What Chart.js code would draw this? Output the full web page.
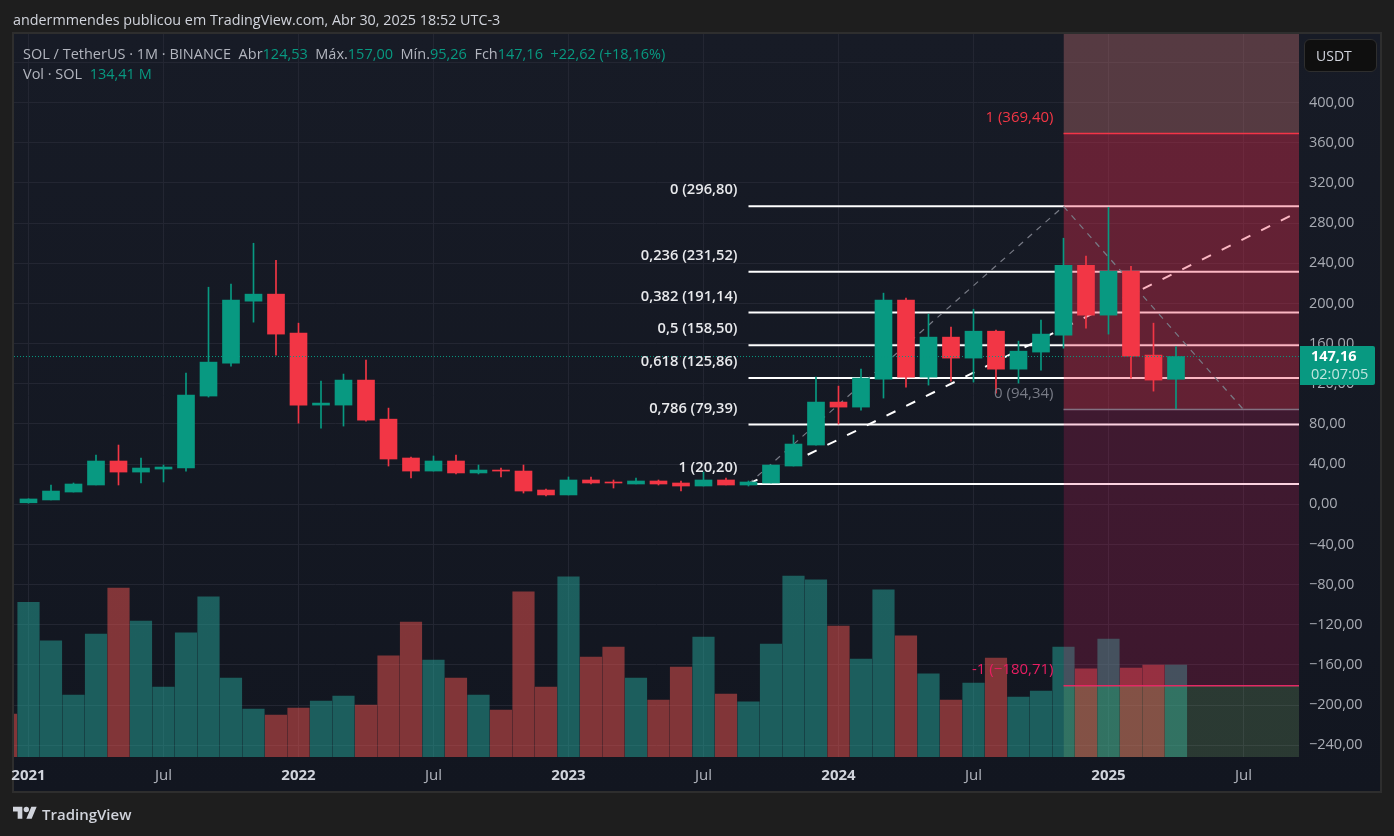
<!DOCTYPE html>
<html>
<head>
<meta charset="utf-8">
<title>SOL / TetherUS</title>
<script src="https://cdn.jsdelivr.net/npm/chart.js@4"></script>
<style>
  html, body { margin: 0; padding: 0; width: 1394px; height: 836px; overflow: hidden; background: #1e1e1e; }
  body { position: relative; font-family: "Open Sans", sans-serif; }
  #pane { position: absolute; left: 12px; top: 32px; width: 1366px; height: 757px; border: 2px solid #2e2e2e; background: linear-gradient(#171b26, #121620); }
  #chart { position: absolute; left: 0; top: 0; }
  .txt { position: absolute; white-space: pre; }
  #author { left: 13px; top: 10px; font-size: 14.35px; color: #d1d4dc; }
  #legend1, #legend2 { left: 23px; font-size: 14.5px; color: #b2b5be; }
  #legend1 { top: 44px; }
  #legend2 { top: 64px; }
  .up { color: #089981; }
  #usdt { position: absolute; left: 1304px; top: 39px; width: 71px; height: 31px; background: #0f0f0f; border: 1px solid #2e2e2e; border-radius: 6px; color: #d1d4dc; font-size: 14px; line-height: 31px; text-indent: 11px; will-change: transform; }
  #tag { position: absolute; left: 1300px; top: 346px; width: 75px; height: 39px; background: #089981; border-radius: 0 2px 2px 0; }
  #tagPrice { left: 1311px; top: 346px; font-size: 14.5px; font-weight: 700; color: #fff; }
  #tagTime { left: 1311px; top: 364px; font-size: 14.5px; color: #c0e5de; }
  #logo { position: absolute; left: 13px; top: 804px; }
  #brand { left: 42px; top: 804px; font-size: 15px; font-weight: 600; color: #d1d4dc; }
</style>
</head>
<body>
<div id="pane"></div>
<canvas id="chart" width="1394" height="836"></canvas>
<div id="usdt">USDT</div>
<div class="txt" id="author">andermmendes publicou em TradingView.com, Abr 30, 2025 18:52 UTC-3</div>
<div class="txt" id="legend1">SOL / TetherUS · 1M · BINANCE  Abr<span class="up">124,53</span>  Máx.<span class="up">157,00</span>  Mín.<span class="up">95,26</span>  Fch<span class="up">147,16</span>  <span class="up">+22,62 (+18,16%)</span></div>
<div class="txt" id="legend2">Vol · SOL  <span class="up">134,41 M</span></div>
<div id="tag"></div>
<div class="txt" id="tagPrice">147,16</div>
<div class="txt" id="tagTime">02:07:05</div>
<svg id="logo" width="24" height="19" viewBox="0 0 36 28"><path fill="#d1d4dc" d="M14 22H7V11H0V4h14v18zM28 22h-8l7.5-18h8L28 22z"/><circle fill="#d1d4dc" cx="20" cy="8" r="4"/></svg>
<div class="txt" id="brand">TradingView</div>
<script>
// monthly candles, Jan 2021 .. Apr 2025 (index 0 = Jan 2021)
const opens = [1.5,4.3,12.2,19.2,43.1,32.1,35.1,36.1,107.8,140.6,202.3,209.3,170.5,98.8,98.8,123.7,84.8,46.1,33.1,43.1,31.2,34.1,33.1,14.2,9.3,24.2,22.2,20.2,23.2,21.2,18.2,24.2,19.2,21.2,38.1,59,101.8,96.8,124.7,203.3,126.7,166.5,145.6,172.4,134.6,151.6,168.5,238.1,188.4,232.1,148.6,124.53]
const highs = [5.5,19.2,21.2,49.1,59,46.1,39.1,130.7,216.2,219.2,260,243.1,180.4,122.7,129.7,143.6,95.8,47.1,48.1,49.1,39.1,36.1,39.1,15.2,27.2,27.2,24.2,26.2,24.2,23.2,32.1,26.2,23.2,39.1,69,126.7,117.7,134.6,210.3,205.3,189.4,176.4,194.3,173.4,162.5,183.4,265,247.1,295.8,237.1,180.4,157]
const lows = [1.1,4.3,12.2,19.2,19.2,21.2,22.2,33.1,106.8,137.6,181.4,148.6,80.8,75.9,77.9,82.8,38.1,26.2,33.1,30.2,30.2,27.2,11.2,8.3,9.3,20.2,16.2,20.2,19.2,13.2,18.2,19.2,18.2,21.2,38.1,59,79.9,93.8,105.8,116.7,118.7,122.7,121.7,110.7,120.7,133.6,155.5,175.4,169.5,125.7,112.7,95.26]
const closes = [5.3,13.2,20.2,43.1,32.1,36.1,37.1,108.7,141.6,203.3,209.3,169.5,98.8,100.8,123.7,83.8,45.1,33.1,43.1,31.2,34.1,33.1,13.2,9.3,24.2,21.2,21.2,23.2,20.2,18.2,24.2,19.2,22.2,39.1,60,101.8,96.8,125.7,203.3,126.7,166.5,145.6,172.4,134.6,152.5,169.5,238.1,188.4,232.1,147.6,123.7,147.16]
// volume in millions, Dec 2020 is index -1 and only its edge shows
const volumeDec2020 = 62.8
const volumes = [226,169.5,90.6,179.7,246.9,198.7,102.3,181.2,233.8,115.4,70.1,61.4,71.6,81.8,89.1,76,147.6,197.2,141.7,115.4,90.6,68.7,241.1,102.3,263,146.1,160.7,115.4,83.3,131.5,175.3,92,80.4,165.1,264.4,258.6,191.4,143.2,244,176.8,121.3,83.3,108.1,144.6,87.7,96.4,160.7,128.6,172.4,130,134.4,134.41]

// 440 only has a grid line, no label fits under the USDT button
const gridValues = [-240,-200,-160,-120,-80,-40,0,40,80,120,160,200,240,280,320,360,400,440]
const priceTicks = [-240,-200,-160,-120,-80,-40,0,40,80,120,160,200,240,280,320,360,400]

// fib retracement drawn from Sep 2023
const fibStart = 32
const fibLevels = [296.8,231.52,191.14,158.5,125.86,79.39,20.2]
const fibLabels = ['0 (296,80)','0,236 (231,52)','0,382 (191,14)','0,5 (158,50)','0,618 (125,86)','0,786 (79,39)','1 (20,20)']

// extension zones drawn from Nov 2024
const zoneStart = 46
const zoneTop = 369.4
const zoneMid = 94.34
const zoneBottom = -180.71

const trendDashed = [{x: 32, y: 20.2}, {x: 56.47, y: 291.6}]
const trendGray = [{x: 32, y: 20.2}, {x: 46, y: 296.8}, {x: 54, y: 94.34}]
const lastClose = 147.16

const UP = '#089981'
const DOWN = '#f23645'
const UP_VOL = 'rgba(38,166,154,0.5)'
const DOWN_VOL = 'rgba(239,83,80,0.5)'
const X_MIN = -0.6444
const X_MAX = 56.467
const Y_MIN = -251.7
const Y_MAX = 468.4

function colorAt(i, up, down){
    return closes[i] >= opens[i] ? up : down
}

function isYear(ctx){
    return !!ctx.tick && ctx.tick.value % 12 == 0
}

let volumeData = [{x: -1, y: volumeDec2020}]
let volumeColors = [DOWN_VOL]
volumes.forEach((v, i) => {
    volumeData.push({x: i, y: v})
    volumeColors.push(colorAt(i, UP_VOL, DOWN_VOL))
})

let bodyData = opens.map((o, i) => ({x: i, y: [o, closes[i]]}))
let wickData = lows.map((l, i) => ({x: i, y: [l, highs[i]]}))
let candleColors = opens.map((o, i) => colorAt(i, UP, DOWN))

function lineSet(points, color, width, dash, order, fill){
    return {
        type: 'line', data: points, borderColor: color, borderWidth: width, borderDash: dash,
        pointRadius: 0, tension: 0, order: order, yAxisID: 'y',
        fill: fill || false, backgroundColor: 'transparent'
    }
}

function zoneSet(level, to, color, lineColor, order){
    let ds = lineSet([{x: zoneStart, y: level}, {x: X_MAX, y: level}], lineColor, 1.5, [], order, {value: to})
    ds.backgroundColor = color
    return ds
}

let datasets = [
    {type: 'bar', data: volumeData, backgroundColor: volumeColors, barThickness: 21.5, yAxisID: 'yVol', order: 100},
]
fibLevels.forEach(level => {
    datasets.push(lineSet([{x: fibStart, y: level}, {x: X_MAX, y: level}], '#ffffff', 2, [], 90))
})
datasets.push(lineSet(trendDashed, '#ffffff', 2, [10, 12], 89))
datasets.push(zoneSet(zoneTop, Y_MAX, 'rgba(232,133,134,0.3)', '#f23645', 80))
datasets.push(zoneSet(zoneMid, zoneTop, 'rgba(245,49,83,0.35)', '#787b86', 79))
datasets.push(zoneSet(zoneBottom, zoneMid, 'rgba(233,30,99,0.2)', '#e91e63', 78))
datasets.push(zoneSet(Y_MIN, zoneBottom, 'rgba(140,200,125,0.2)', 'transparent', 77))
datasets.push(lineSet(trendGray, '#787b86', 1.2, [6, 6], 70))
datasets.push({type: 'bar', data: wickData, backgroundColor: candleColors, barThickness: 1, yAxisID: 'y', order: 20})
datasets.push({type: 'bar', data: bodyData, backgroundColor: candleColors, barThickness: 17, yAxisID: 'y', order: 10})
datasets.push(lineSet([{x: X_MIN, y: lastClose}, {x: X_MAX, y: lastClose}], UP, 1, [1, 2], 5))

const drawingLabels = {
    id: 'drawingLabels',
    afterDatasetsDraw(chart){
        let {ctx, scales: {x, y}} = chart
        ctx.save()
        ctx.textAlign = 'right'
        ctx.textBaseline = 'middle'
        ctx.font = '600 14.7px "Open Sans"'
        ctx.fillStyle = '#e8e9ec'
        fibLevels.forEach((level, i) => {
            ctx.fillText(fibLabels[i], x.getPixelForValue(fibStart) - 11, y.getPixelForValue(level) - 16)
        })
        ctx.font = '15px "Open Sans"'
        let right = x.getPixelForValue(zoneStart) - 10
        ctx.fillStyle = '#f23645'
        ctx.fillText('1 (369,40)', right, y.getPixelForValue(zoneTop) - 16)
        ctx.fillStyle = '#787b86'
        ctx.fillText('0 (94,34)', right, y.getPixelForValue(zoneMid) - 16)
        ctx.fillStyle = '#e91e63'
        ctx.fillText('-1 (\u2212180,71)', right, y.getPixelForValue(zoneBottom) - 16)
        ctx.restore()
    }
}

new Chart(document.getElementById('chart'), {
    type: 'bar',
    data: {datasets: datasets},
    plugins: [drawingLabels],
    options: {
        responsive: false,
        animation: false,
        grouped: false,
        layout: {padding: {left: 14, top: 34, right: 14, bottom: 45}},
        plugins: {legend: {display: false}, tooltip: {enabled: false}},
        scales: {
            x: {
                type: 'linear', min: X_MIN, max: X_MAX, offset: false,
                border: {display: false},
                grid: {color: '#232632', offset: false, drawTicks: false},
                afterFit(scale){ scale.height = 34 },
                ticks: {
                    stepSize: 6, includeBounds: false, autoSkip: false, maxRotation: 0, padding: 10,
                    color: ctx => isYear(ctx) ? '#d1d4dc' : '#b2b5be',
                    font: ctx => ({family: '"Open Sans"', size: 15, weight: isYear(ctx) ? '700' : '400'}),
                    callback: v => v % 12 == 0 ? String(2021 + v / 12) : 'Jul'
                }
            },
            y: {
                position: 'right', min: Y_MIN, max: Y_MAX, offset: false,
                border: {display: false},
                grid: {color: '#232632', drawTicks: false},
                afterBuildTicks(scale){ scale.ticks = gridValues.map(v => ({value: v})) },
                afterFit(scale){ scale.width = 81 },
                ticks: {
                    autoSkip: false, padding: 10, crossAlign: 'near',
                    color: '#a8abb3',
                    font: {family: '"Open Sans"', size: 14.5},
                    callback: v => priceTicks.includes(v) ? v.toFixed(2).replace('.', ',').replace('-', '\u2212') : ''
                }
            },
            yVol: {display: false, min: 0, max: 1056}
        }
    }
})
</script>
</body>
</html>
